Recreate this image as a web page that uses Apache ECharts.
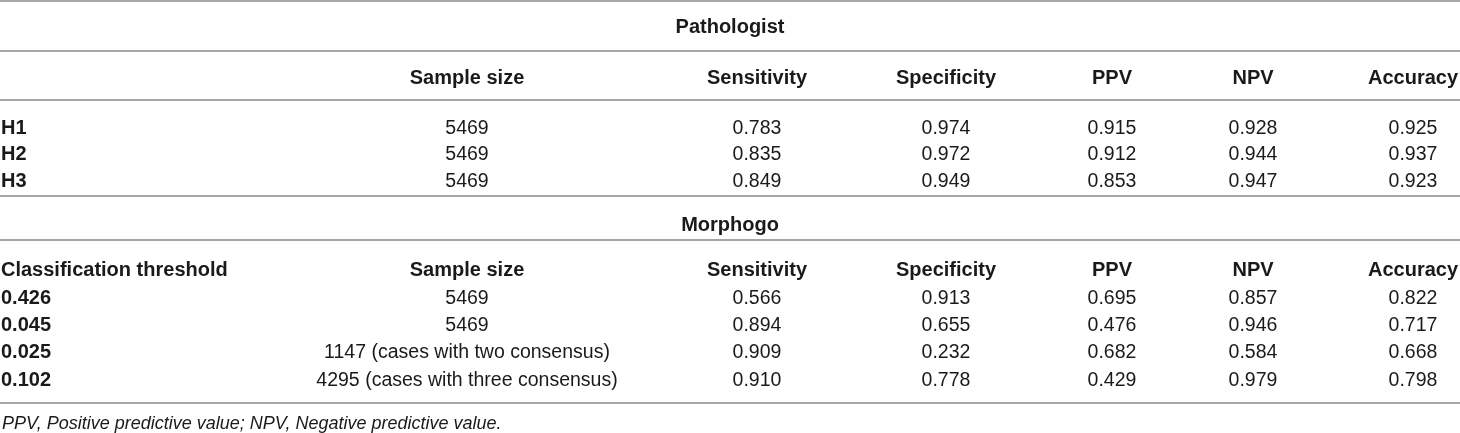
<!DOCTYPE html>
<html>
<head>
<meta charset="utf-8">
<script src="https://cdn.jsdelivr.net/npm/echarts@6/dist/echarts.min.js"></script>
<style>
html,body{margin:0;padding:0;background:#fff;}
#main{width:1460px;height:433px;}
</style>
</head>
<body>
<div id="main"></div>
<script>
// ---- data ----
const headers = ['Sample size', 'Sensitivity', 'Specificity', 'PPV', 'NPV', 'Accuracy'];
const pathTitle = 'Pathologist';
const morphTitle = 'Morphogo';
const morphFirstHeader = 'Classification threshold';
const pathRows = ['H1', 'H2', 'H3'];
const pathSample = ['5469', '5469', '5469'];
const pathSensitivity = [0.783, 0.835, 0.849];
const pathSpecificity = [0.974, 0.972, 0.949];
const pathPPV = [0.915, 0.912, 0.853];
const pathNPV = [0.928, 0.944, 0.947];
const pathAccuracy = [0.925, 0.937, 0.923];
const morphRows = ['0.426', '0.045', '0.025', '0.102'];
const morphSample = ['5469', '5469', '1147 (cases with two consensus)', '4295 (cases with three consensus)'];
const morphSensitivity = [0.566, 0.894, 0.909, 0.910];
const morphSpecificity = [0.913, 0.655, 0.232, 0.778];
const morphPPV = [0.695, 0.476, 0.682, 0.429];
const morphNPV = [0.857, 0.946, 0.584, 0.979];
const morphAccuracy = [0.822, 0.717, 0.668, 0.798];
const footnote = 'PPV, Positive predictive value; NPV, Negative predictive value.';

// ---- layout (pixel scale of the value axes) ----
const colX = [1, 467, 757, 946, 1112, 1253, 1413];
const titleX = 730;
const rowY = {
  pathTitle: 27.5, pathHeader: 78.5, pathData: [128.5, 154.5, 181.5],
  morphTitle: 225, morphHeader: 270.5, morphData: [298.5, 325.5, 352.5, 380.5],
  footnote: 424
};
const ruleY = [1, 51, 100, 196, 240, 403];

const FONT = '"Liberation Sans", Arial, Helvetica, sans-serif';
const TXT = '#1a1a1a';

function cell(x, y, text, opts) {
  opts = opts || {};
  return {
    value: [x, y],
    itemStyle: {opacity: 1},
    label: {
      show: true,
      position: 'inside',
      formatter: text,
      align: opts.align || 'center',
      verticalAlign: 'middle',
      fontWeight: opts.bold ? 'bold' : 'normal',
      fontStyle: opts.italic ? 'italic' : 'normal',
      fontSize: opts.size || (opts.bold ? 20 : 19.5),
      fontFamily: FONT,
      color: TXT,
      opacity: 1,
      textBorderWidth: 0,
      textShadowBlur: 0
    }
  };
}

const cells = [];
// Pathologist block
cells.push(cell(titleX, rowY.pathTitle, pathTitle, {bold: true}));
headers.forEach((h, i) => cells.push(cell(colX[i + 1], rowY.pathHeader, h, {bold: true})));
const pathCols = [pathSample, pathSensitivity, pathSpecificity, pathPPV, pathNPV, pathAccuracy];
pathRows.forEach((r, j) => {
  const y = rowY.pathData[j];
  cells.push(cell(colX[0], y, r, {bold: true, align: 'left'}));
  pathCols.forEach((col, i) => {
    const v = col[j];
    cells.push(cell(colX[i + 1], y, typeof v === 'number' ? v.toFixed(3) : v));
  });
});
// Morphogo block
cells.push(cell(titleX, rowY.morphTitle, morphTitle, {bold: true}));
cells.push(cell(colX[0], rowY.morphHeader, morphFirstHeader, {bold: true, align: 'left'}));
headers.forEach((h, i) => cells.push(cell(colX[i + 1], rowY.morphHeader, h, {bold: true})));
const morphCols = [morphSample, morphSensitivity, morphSpecificity, morphPPV, morphNPV, morphAccuracy];
morphRows.forEach((r, j) => {
  const y = rowY.morphData[j];
  cells.push(cell(colX[0], y, r, {bold: true, align: 'left'}));
  morphCols.forEach((col, i) => {
    const v = col[j];
    cells.push(cell(colX[i + 1], y, typeof v === 'number' ? v.toFixed(3) : v));
  });
});
cells.push(cell(colX[0] + 1, rowY.footnote, footnote, {italic: true, align: 'left', size: 18}));

const chart = echarts.init(document.getElementById('main'), null, {renderer: 'canvas'});
chart.setOption({
  animation: false,
  backgroundColor: '#fff',
  grid: {left: 0, right: 0, top: 0, bottom: 0},
  xAxis: {type: 'value', min: 0, max: 1460, show: false},
  yAxis: {type: 'value', min: 0, max: 433, inverse: true, show: false},
  series: [{
    type: 'scatter',
    symbolSize: 0,
    silent: true,
    itemStyle: {opacity: 1},
    data: cells,
    markLine: {
      silent: true,
      symbol: ['none', 'none'],
      label: {show: false},
      lineStyle: {color: '#a6a6a6', width: 1.8, type: 'solid', opacity: 1},
      data: ruleY.map(y => ({yAxis: y}))
    }
  }]
});
</script>
</body>
</html>
